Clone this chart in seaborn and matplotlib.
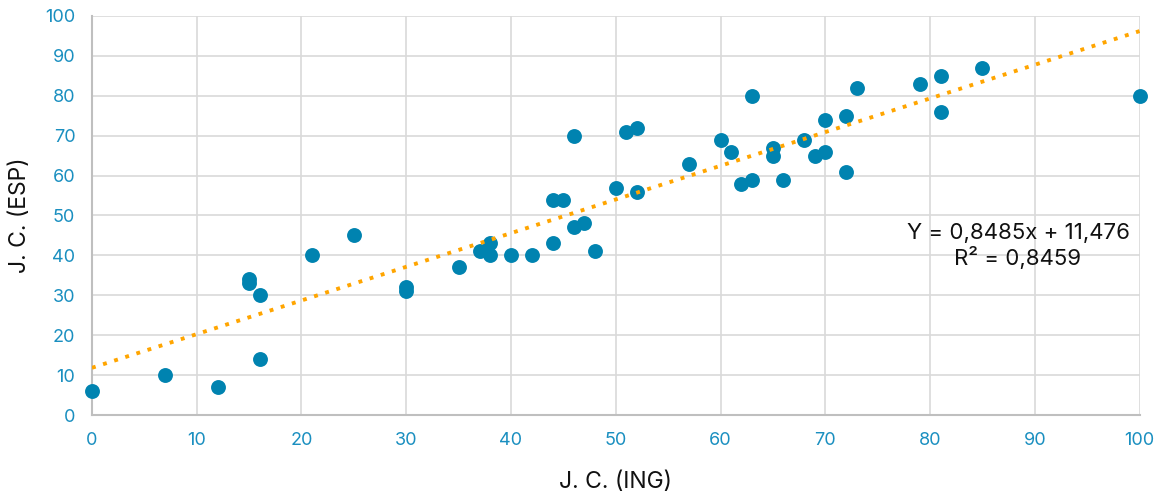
import matplotlib
matplotlib.use("Agg")
import matplotlib.pyplot as plt
import seaborn as sns
import numpy as np
import pandas as pd

ing = [0, 7, 12, 15, 15, 16, 16, 21, 25, 30, 30, 35, 37, 38, 38, 40, 42, 44, 44, 45,
       46, 46, 47, 48, 50, 51, 52, 52, 57, 60, 61, 62, 63, 63, 65, 65, 66, 68, 69, 70,
       70, 72, 72, 73, 79, 81, 81, 85, 100]
esp = [6, 10, 7, 34, 33, 30, 14, 40, 45, 32, 31, 37, 41, 43, 40, 40, 40, 54, 43, 54,
       70, 47, 48, 41, 57, 71, 72, 56, 63, 69, 66, 58, 80, 59, 67, 65, 59, 69, 65, 74,
       66, 75, 61, 82, 83, 85, 76, 87, 80]
ticks = [0, 10, 20, 30, 40, 50, 60, 70, 80, 90, 100]
eq_text = "Y = 0,8485x + 11,476\nR² = 0,8459"
x_label = "J. C. (ING)"
y_label = "J. C. (ESP)"

df = pd.DataFrame({"ING": ing, "ESP": esp})

sns.set_theme(style="whitegrid")
plt.rcParams['font.family'] = ['Inter', 'DejaVu Sans']

fig = plt.figure(figsize=(11.64, 4.92), dpi=100)
ax = fig.add_axes([0.079, 0.1565, 0.9, 0.811])
ax.set_xlim(0, 100)
ax.set_ylim(0, 100)

sns.regplot(data=df, x="ING", y="ESP", ax=ax, ci=None, truncate=False,
            scatter_kws=dict(s=115, color="#0083b0", linewidths=0, alpha=1, zorder=3, clip_on=False),
            line_kws=dict(color="#ffa500", linestyle=(0, (1, 2.0)), linewidth=2.8, zorder=4))

ax.set_xlim(0, 100)
ax.set_ylim(0, 100)
ax.set_xticks(ticks)
ax.set_yticks(ticks)
ax.tick_params(axis="both", colors="#1a8fc0", labelsize=13, length=0)
ax.tick_params(axis="x", pad=12)
ax.tick_params(axis="y", pad=12)
ax.grid(True, color="#d9d9d9", linewidth=1.2)
for s in ["top", "right"]:
    ax.spines[s].set_visible(False)
for s in ["left", "bottom"]:
    ax.spines[s].set_color("#bfbfbf")
    ax.spines[s].set_linewidth(1.5)
ax.set_xlabel(x_label, fontsize=16.5, color="#111111", labelpad=16)
ax.set_ylabel(y_label, fontsize=16.5, color="#111111", labelpad=10)

ax.text(88.4, 42.3, eq_text, ha="center", va="center", fontsize=16,
        color="#111111", linespacing=1.15)

fig.savefig("out.png", dpi=100)
